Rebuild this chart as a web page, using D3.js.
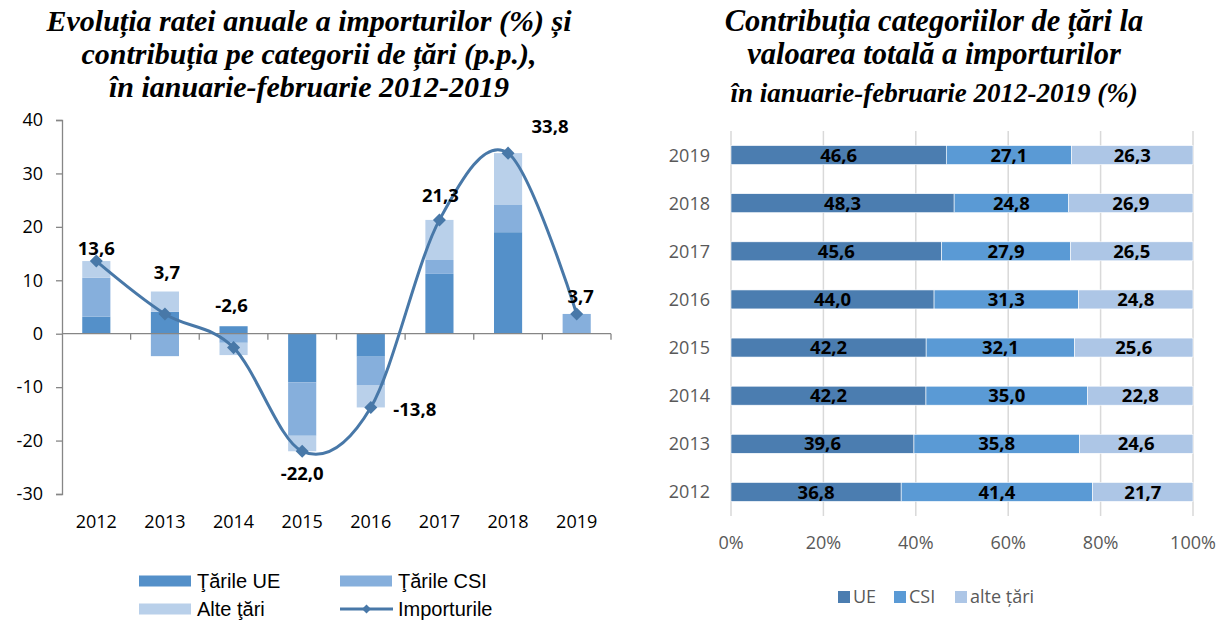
<!DOCTYPE html>
<html>
<head>
<meta charset="utf-8">
<script src="https://d3js.org/d3.v7.min.js"></script>
<style>
  html, body { margin: 0; padding: 0; background: #ffffff; }
  svg { display: block; }
</style>
</head>
<body>
<script>
// ---------- DATA ----------
const years = ["2012", "2013", "2014", "2015", "2016", "2017", "2018", "2019"];
// Left chart: contributions (p.p.) and annual import growth (%)
const ueContrib   = [3.2, 4.1, 1.4, -9.1, -4.3, 11.2, 19.0, 0.0];
const csiContrib  = [7.3, -4.2, -1.7, -10.0, -5.3, 2.6, 5.2, 3.7];
const alteContrib = [3.1, 3.8, -2.3, -2.9, -4.2, 7.5, 9.6, 0.0];
const importGrowth = [13.6, 3.7, -2.6, -22.0, -13.8, 21.3, 33.8, 3.7];
const leftYTicks = [-30, -20, -10, 0, 10, 20, 30, 40];
const leftSeriesNames = ["Ţările UE", "Ţările CSI", "Alte ţări", "Importurile"];

// Right chart: shares of total imports (%)
const shareYears = ["2012", "2013", "2014", "2015", "2016", "2017", "2018", "2019"];
const ueShare   = [36.8, 39.6, 42.2, 42.2, 44.0, 45.6, 48.3, 46.6];
const csiShare  = [41.4, 35.8, 35.0, 32.1, 31.3, 27.9, 24.8, 27.1];
const alteShare = [21.7, 24.6, 22.8, 25.6, 24.8, 26.5, 26.9, 26.3];
const rightXTicks = [0, 0.2, 0.4, 0.6, 0.8, 1.0];
const rightSeriesNames = ["UE", "CSI", "alte țări"];

// ---------- STYLE ----------
const leftColors = ["#5490c9", "#86afdc", "#b9d0ea"];
const lineColor = "#4878a8";
const rightColors = ["#4b7db0", "#5a9ad5", "#adc6e6"];
// label placement relative to marker (style, not data)
const labelOffsets = [[0, -13], [2, -42], [-2, -42], [0, 22], [44, 2], [1, -25], [42, -27], [4, -18]];

const W = 1217, H = 621;
const svg = d3.select("body").append("svg").attr("width", W).attr("height", H);

const fmt = v => d3.format(".1f")(v).replace(".", ",").replace("\u2212", "-");

// ---------- TITLES ----------
const titleFont = "'Liberation Serif', 'Times New Roman', serif";
function title(lines, cx, baselines, sizes) {
  lines.forEach((t, i) => {
    svg.append("text").attr("x", cx).attr("y", baselines[i])
      .attr("text-anchor", "middle")
      .style("font-family", titleFont).style("font-weight", "bold").style("font-style", "italic")
      .style("font-size", sizes[i] + "px").attr("fill", "#000")
      .text(t);
  });
}
title(["Evoluția ratei anuale a importurilor (%) și",
       "contribuția pe categorii de țări (p.p.),",
       "în ianuarie-februarie 2012-2019"], 309, [31, 64, 97], [30, 30, 30]);
title(["Contribuția categoriilor de țări la",
       "valoarea totală a importurilor",
       "în ianuarie-februarie 2012-2019 (%)"], 934, [31, 64, 102], [30.5, 30.5, 27]);

// ---------- LEFT CHART ----------
const lf = "'Open Sans', 'Liberation Sans', sans-serif";
const L = { x0: 62, x1: 611, y0: 120, y1: 494 };
const xL = d3.scaleBand().domain(years).range([L.x0, L.x1]).paddingInner(0.59).paddingOuter(0.295);
const yL = d3.scaleLinear().domain([-30, 40]).range([L.y1, L.y0]);

const leftRows = years.map((y, i) => ({ year: y, ue: ueContrib[i], csi: csiContrib[i], alte: alteContrib[i] }));
const stackL = d3.stack().keys(["ue", "csi", "alte"]).offset(d3.stackOffsetDiverging)(leftRows);

const gL = svg.append("g");
stackL.forEach((layer, li) => {
  gL.append("g").attr("fill", leftColors[li])
    .selectAll("rect").data(layer).join("rect")
    .attr("x", d => xL(d.data.year))
    .attr("width", xL.bandwidth())
    .attr("y", d => yL(Math.max(d[0], d[1])))
    .attr("height", d => Math.abs(yL(d[0]) - yL(d[1])));
});

// y axis
const axisColor = "#868686";
const yAxisL = d3.axisLeft(yL).tickValues(leftYTicks).tickSize(6).tickPadding(13).tickFormat(d => String(d));
const gy = svg.append("g").attr("transform", `translate(${L.x0},0)`).call(yAxisL);
gy.select(".domain").attr("stroke", axisColor).attr("stroke-width", 1.3);
gy.selectAll(".tick line").attr("stroke", axisColor).attr("stroke-width", 1.3);
gy.selectAll(".tick text").style("font-family", lf).style("font-size", "18px").attr("fill", "#000");

// x axis at zero
const xTickPos = d3.range(years.length + 1).map(i => L.x0 + i * (L.x1 - L.x0) / years.length);
const gx = svg.append("g");
gx.append("line").attr("x1", L.x0).attr("x2", L.x1).attr("y1", yL(0)).attr("y2", yL(0))
  .attr("stroke", axisColor).attr("stroke-width", 1.3);
gx.selectAll("line.t").data(xTickPos.slice(1)).join("line").attr("class", "t")
  .attr("x1", d => d).attr("x2", d => d).attr("y1", yL(0)).attr("y2", yL(0) + 6)
  .attr("stroke", axisColor).attr("stroke-width", 1.3);
gx.selectAll("text").data(years).join("text")
  .attr("x", d => xL(d) + xL.bandwidth() / 2).attr("y", 528)
  .attr("text-anchor", "middle").style("font-family", lf).style("font-size", "18px").attr("fill", "#000")
  .text(d => d);

// smoothed line
const cx = (d, i) => xL(years[i]) + xL.bandwidth() / 2;
const line = d3.line().x((d, i) => cx(d, i)).y(d => yL(d)).curve(d3.curveCardinal.tension(0));
svg.append("path").datum(importGrowth).attr("d", line)
  .attr("fill", "none").attr("stroke", lineColor).attr("stroke-width", 3);
const diamond = d3.symbol().type(d3.symbolSquare).size(85);
svg.append("g").selectAll("path").data(importGrowth).join("path")
  .attr("d", diamond)
  .attr("transform", (d, i) => `translate(${cx(d, i)},${yL(d)}) rotate(45)`)
  .attr("fill", lineColor);
svg.append("g").selectAll("text").data(importGrowth).join("text")
  .attr("x", (d, i) => cx(d, i) + labelOffsets[i][0])
  .attr("y", (d, i) => yL(d) + labelOffsets[i][1])
  .attr("dy", "0.36em").attr("text-anchor", "middle")
  .style("font-family", lf).style("font-weight", "bold").style("font-size", "18.5px").attr("fill", "#000")
  .text(d => fmt(d));

// left legend
const lg = svg.append("g").style("font-family", "'Liberation Sans', Arial, sans-serif").style("font-size", "20px");
const legItems = [
  { x: 139, y: 581, type: "rect", c: leftColors[0], t: leftSeriesNames[0] },
  { x: 340, y: 581, type: "rect", c: leftColors[1], t: leftSeriesNames[1] },
  { x: 139, y: 609, type: "rect", c: leftColors[2], t: leftSeriesNames[2] },
  { x: 340, y: 609, type: "line", c: lineColor, t: leftSeriesNames[3] }
];
legItems.forEach(it => {
  if (it.type === "rect") {
    lg.append("rect").attr("x", it.x).attr("y", it.y - 5.5).attr("width", 52).attr("height", 11).attr("fill", it.c);
  } else {
    lg.append("line").attr("x1", it.x).attr("x2", it.x + 53).attr("y1", it.y).attr("y2", it.y)
      .attr("stroke", it.c).attr("stroke-width", 3);
    lg.append("path").attr("d", d3.symbol().type(d3.symbolSquare).size(40)())
      .attr("transform", `translate(${it.x + 26.5},${it.y}) rotate(45)`).attr("fill", it.c);
  }
  lg.append("text").attr("x", it.x + 58).attr("y", it.y).attr("dy", "0.35em").attr("fill", "#000").text(it.t);
});

// ---------- RIGHT CHART ----------
const R = { x0: 731, x1: 1193, y0: 131, y1: 516 };
const xR = d3.scaleLinear().domain([0, 1]).range([R.x0, R.x1]);
const yR = d3.scaleBand().domain(shareYears.slice().reverse()).range([R.y0, R.y1]).paddingInner(0.606).paddingOuter(0.303);
const rightRows = shareYears.map((y, i) => ({ year: y, ue: ueShare[i], csi: csiShare[i], alte: alteShare[i] }));
const stackR = d3.stack().keys(["ue", "csi", "alte"]).offset(d3.stackOffsetExpand)(rightRows);

// gridlines
svg.append("g").selectAll("line").data(rightXTicks).join("line")
  .attr("x1", d => xR(d)).attr("x2", d => xR(d)).attr("y1", R.y0).attr("y2", R.y1)
  .attr("stroke", "#d9d9d9").attr("stroke-width", 1.5);

const gR = svg.append("g");
stackR.forEach((layer, li) => {
  gR.append("g").attr("fill", rightColors[li])
    .selectAll("rect").data(layer).join("rect")
    .attr("x", d => xR(d[0])).attr("width", d => xR(d[1]) - xR(d[0]))
    .attr("y", d => yR(d.data.year)).attr("height", yR.bandwidth())
    .attr("stroke", "#ffffff").attr("stroke-width", 0.6);
  gR.append("g").selectAll("text").data(layer).join("text")
    .attr("x", d => (xR(d[0]) + xR(d[1])) / 2)
    .attr("y", d => yR(d.data.year) + yR.bandwidth() / 2)
    .attr("dy", "0.36em").attr("text-anchor", "middle")
    .style("font-family", lf).style("font-weight", "bold").style("font-size", "18.5px").attr("fill", "#000")
    .text(d => fmt(d.data[layer.key]));
});

// right axes labels
svg.append("g").selectAll("text").data(shareYears).join("text")
  .attr("x", 710).attr("y", d => yR(d) + yR.bandwidth() / 2).attr("dy", "0.36em")
  .attr("text-anchor", "end").style("font-family", lf).style("font-size", "18px").attr("fill", "#595959")
  .text(d => d);
svg.append("g").selectAll("text").data(rightXTicks).join("text")
  .attr("x", d => xR(d)).attr("y", 543).attr("dy", "0.36em")
  .attr("text-anchor", "middle").style("font-family", lf).style("font-size", "18px").attr("fill", "#595959")
  .text(d => d3.format(".0%")(d));

// right legend
const rl = svg.append("g").style("font-family", lf).style("font-size", "18px");
const rlX = [838, 894, 955];
rightSeriesNames.forEach((n, i) => {
  rl.append("rect").attr("x", rlX[i]).attr("y", 591).attr("width", 12).attr("height", 12).attr("fill", rightColors[i]);
  rl.append("text").attr("x", rlX[i] + 15).attr("y", 597).attr("dy", "0.36em").attr("fill", "#595959").text(n);
});
</script>
</body>
</html>
